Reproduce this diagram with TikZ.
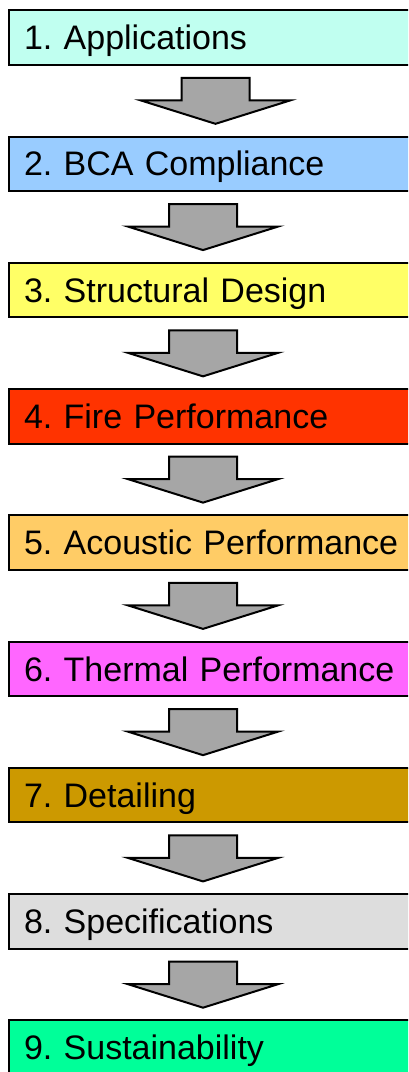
\documentclass[tikz,border=0pt]{standalone}
\usepackage{fontspec}
\setmainfont{Liberation Sans}
\usepackage{xcolor}
\usepackage{tikz}
\usetikzlibrary{positioning,calc}
\frenchspacing

\definecolor{appcol}{HTML}{C0FFF0}
\definecolor{bcacol}{HTML}{99CCFF}
\definecolor{structcol}{HTML}{FFFF66}
\definecolor{firecol}{HTML}{FF3300}
\definecolor{acousticcol}{HTML}{FFCC66}
\definecolor{thermalcol}{HTML}{FF66FF}
\definecolor{detailcol}{HTML}{CC9900}
\definecolor{speccol}{HTML}{DDDDDD}
\definecolor{sustaincol}{HTML}{00FF99}
\definecolor{arrowgrey}{HTML}{A6A6A6}

% block arrow from the bottom of one box to the top of the next
\newcommand{\flowarrow}[3]{%
  \draw[blockarrow]
    ($(#1.south west)+(#3-34,12)$) -- ($(#1.south west)+(#3+34,12)$)
    -- ($(#2.north west)+(#3+34,-35.25)$) -- ($(#2.north west)+(#3+75,-35.25)$)
    -- ($(#2.north west)+(#3,-11.75)$)
    -- ($(#2.north west)+(#3-75,-35.25)$) -- ($(#2.north west)+(#3-34,-35.25)$)
    -- cycle;
}

\begin{document}
\begin{tikzpicture}[
    x=0.75pt, y=-0.75pt,
    node distance=52.3pt,
    box/.style={draw, rectangle, line width=1.5pt, text width=293.25pt, inner xsep=11.25pt,
      minimum height=40.9pt, text height=18.2pt, text depth=0pt, align=left,
      font=\fontsize{25.5pt}{30pt}\selectfont},
    blockarrow/.style={draw, fill=arrowgrey, line width=1.5pt, line join=miter}
]
    \useasboundingbox (0,0) rectangle (408,1072);
    \clip (0,0) rectangle (408,1072);

    \node[box, fill=appcol, anchor=north west] (apps) at (8,9.3) {1. Applications};
    \node[box, fill=bcacol, below=of apps] (bca) {2. BCA Compliance};
    \node[box, fill=structcol, below=of bca] (struct) {3. Structural Design};
    \node[box, fill=firecol, below=of struct] (fire) {4. Fire Performance};
    \node[box, fill=acousticcol, below=of fire] (acoustic) {5. Acoustic Performance};
    \node[box, fill=thermalcol, below=of acoustic] (thermal) {6. Thermal Performance};
    \node[box, fill=detailcol, below=of thermal] (detail) {7. Detailing};
    \node[box, fill=speccol, below=of detail] (specs) {8. Specifications};
    \node[box, fill=sustaincol, below=of specs] (sustain) {9. Sustainability};

    \flowarrow{apps}{bca}{207.5}
    \flowarrow{bca}{struct}{195}
    \flowarrow{struct}{fire}{195}
    \flowarrow{fire}{acoustic}{195}
    \flowarrow{acoustic}{thermal}{195}
    \flowarrow{thermal}{detail}{195}
    \flowarrow{detail}{specs}{195}
    \flowarrow{specs}{sustain}{195}
\end{tikzpicture}
\end{document}
